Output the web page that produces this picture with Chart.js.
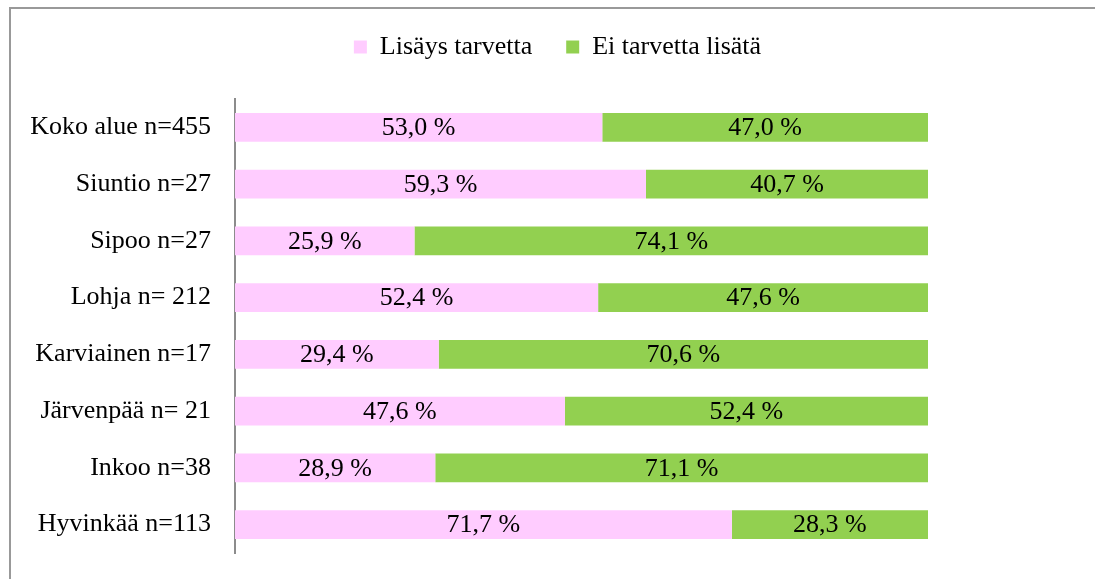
<!DOCTYPE html>
<html>
<head>
<meta charset="utf-8">
<script src="https://cdn.jsdelivr.net/npm/chart.js@4"></script>
<style>
html,body{margin:0;padding:0;background:#fff;}
#wrap{width:1095px;height:579px;position:relative;}
</style>
</head>
<body>
<div id="wrap"><canvas id="c"></canvas></div>
<script>
const categories = ["Koko alue n=455","Siuntio n=27","Sipoo n=27","Lohja n= 212","Karviainen n=17","Järvenpää n= 21","Inkoo n=38","Hyvinkää n=113"];
const seriesNames = ["Lisäys tarvetta","Ei tarvetta lisätä"];
const lisaysValues = [53.0,59.3,25.9,52.4,29.4,47.6,28.9,71.7];
const eiValues = [47.0,40.7,74.1,47.6,70.6,52.4,71.1,28.3];
const seriesColors = ["#FFCCFF","#92D050"];

const FONT = '"Liberation Serif", "Times New Roman", serif';

const framePlugin = {
  id: 'frame',
  beforeDraw(chart) {
    const ctx = chart.ctx;
    ctx.save();
    ctx.strokeStyle = '#999999';
    ctx.lineWidth = 2;
    ctx.beginPath();
    ctx.moveTo(10, chart.height + 2);
    ctx.lineTo(10, 8);
    ctx.lineTo(chart.width + 2, 8);
    ctx.stroke();
    ctx.restore();
  }
};

const legendMargin = {
  id: 'legendMargin',
  beforeInit(chart) {
    const orig = chart.legend.fit;
    chart.legend.fit = function () {
      orig.bind(chart.legend)();
      this.height += 29;
    };
  }
};

const valueLabels = {
  id: 'valueLabels',
  afterDatasetsDraw(chart) {
    const ctx = chart.ctx;
    ctx.save();
    ctx.font = '26px ' + FONT;
    ctx.fillStyle = '#000';
    ctx.textAlign = 'center';
    ctx.textBaseline = 'middle';
    chart.data.datasets.forEach((ds, di) => {
      const meta = chart.getDatasetMeta(di);
      meta.data.forEach((bar, i) => {
        const p = bar.getProps(['x','y','base'], true);
        const cx = (p.x + p.base) / 2;
        const txt = ds.data[i].toFixed(1).replace('.', ',') + ' %';
        ctx.fillText(txt, cx, p.y + 1);
      });
    });
    ctx.restore();
  }
};

new Chart(document.getElementById('c'), {
  type: 'bar',
  data: {
    labels: categories,
    datasets: [
      { label: seriesNames[0], data: lisaysValues, backgroundColor: seriesColors[0], borderWidth: 0 },
      { label: seriesNames[1], data: eiValues, backgroundColor: seriesColors[1], borderWidth: 0 }
    ]
  },
  options: {
    indexAxis: 'y',
    responsive: true,
    maintainAspectRatio: false,
    animation: false,
    barPercentage: 0.51,
    categoryPercentage: 1.0,
    layout: { padding: { top: 0, right: 0, bottom: 26, left: 20 } },
    plugins: {
      legend: {
        position: 'top',
        labels: {
          font: { family: FONT, size: 26 },
          color: '#000',
          boxWidth: 13,
          boxHeight: 13,
          padding: 34
        }
      },
      tooltip: { enabled: false }
    },
    scales: {
      x: {
        stacked: true,
        min: 0,
        max: 100,
        display: false
      },
      y: {
        stacked: true,
        afterFit(scale) { scale.width = 215; scale.paddingTop = 0; scale.paddingBottom = 0; },
        grid: { display: false, drawTicks: false },
        border: { display: true, color: '#8c8c8c', width: 2 },
        ticks: {
          font: { family: FONT, size: 26 },
          color: '#000',
          padding: 24
        }
      },
      yRight: {
        type: 'category',
        position: 'right',
        display: true,
        afterFit(scale) { scale.width = 167; scale.paddingTop = 0; scale.paddingBottom = 0; },
        grid: { display: false, drawTicks: false },
        border: { display: false },
        ticks: { display: false }
      }
    }
  },
  plugins: [framePlugin, legendMargin, valueLabels]
});
</script>
</body>
</html>
